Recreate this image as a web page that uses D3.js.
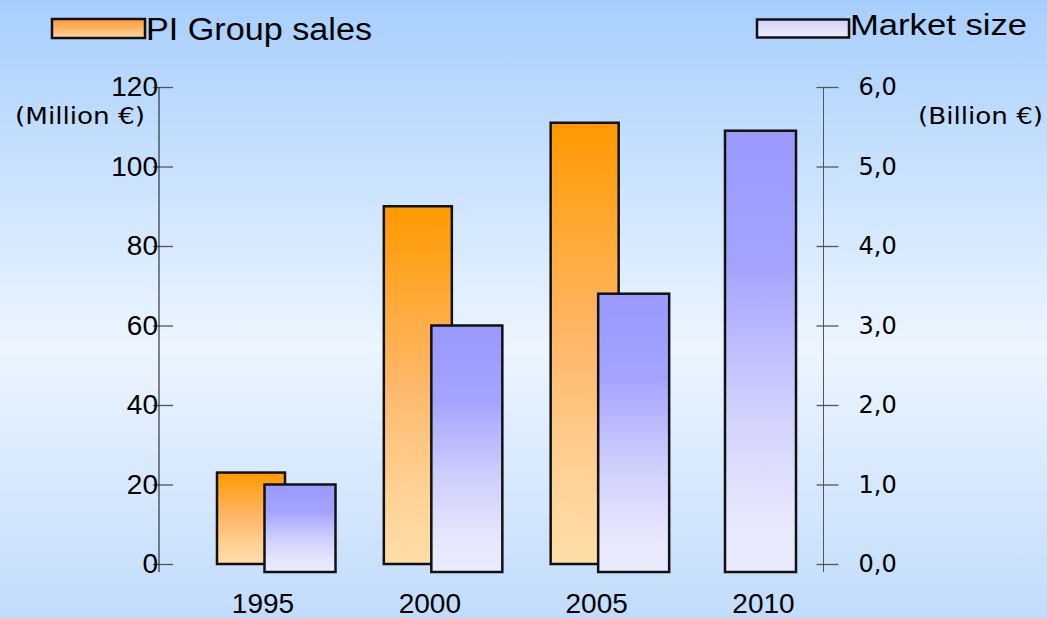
<!DOCTYPE html>
<html>
    <head>
        <title>PI Group sales vs market size</title>
        <meta charset="UTF-8">
        <script src="https://cdnjs.cloudflare.com/ajax/libs/d3/7.9.0/d3.min.js"></script>
        <style>
            html, body {
                margin: 0;
                padding: 0;
                overflow: hidden;
            }
            .chart text {
                fill: #000;
            }
        </style>
    </head>
    <body>
        <div class="chart"></div>
        <script>
            // data
            var years = ['1995', '2000', '2005', '2010'];
            var groupSales = [23, 90, 111, null];     // million EUR, left axis
            var marketSize = [1.0, 3.0, 3.4, 5.45];   // billion EUR, right axis
            var leftTicks = [0, 20, 40, 60, 80, 100, 120];
            var rightTicks = [0, 1, 2, 3, 4, 5, 6];

            var w = 1047;
            var h = 618;
            var depth = 8; // market bars drop below the base line

            var svg = d3.select('.chart').append('svg')
                    .attr('width', w)
                    .attr('height', h);

            var defs = svg.append('defs');
            function addGradient(id, stops){
                let g = defs.append('linearGradient')
                        .attr('id', id)
                        .attr('x1', 0).attr('y1', 0)
                        .attr('x2', 0).attr('y2', 1);
                stops.forEach(function(s){
                    g.append('stop')
                        .attr('offset', s[0])
                        .style('stop-color', s[1]);
                });
            }
            addGradient('bg', [[0, '#a7cffd'], [0.56, '#ecf5ff'], [1, '#c1dcfb']]);
            addGradient('orange', [[0, '#ff9900'], [0.5, '#ffb86a'], [0.8, '#ffd296'], [1, '#ffdda8']]);
            addGradient('purple', [[0, '#9999ff'], [0.3, '#a3a3ff'], [0.6, '#cdcdfd'], [0.85, '#e5e5fd'], [1, '#ebebfe']]);
            addGradient('orangeKey', [[0, '#ff9a2e'], [1, '#ffd3a4']]);
            addGradient('purpleKey', [[0, '#cfcffd'], [1, '#efeffe']]);

            svg.append('rect')
                .attr('width', w)
                .attr('height', h)
                .attr('fill', 'url(#bg)');

            // scales
            var x = d3.scalePoint()
                    .domain(years)
                    .range([263, 763.5]);
            var yL = d3.scaleLinear()
                    .domain([0, 120])
                    .range([564, 87]);
            var yR = d3.scaleLinear()
                    .domain([0, 6])
                    .range([564, 87]);

            var axisLeftX = 159;
            var axisRightX = 823.5;
            var orangeW = 68;
            var purpleW = 71;

            // left axis
            var gl = svg.append('g')
                    .attr('transform', 'translate(' + axisLeftX + ',0)')
                    .call(d3.axisLeft(yL).tickValues(leftTicks).tickSizeOuter(0));
            gl.select('.domain').remove();
            gl.selectAll('.tick line')
                .attr('x1', -6).attr('x2', 14)
                .attr('stroke', '#555').attr('stroke-width', 1.3);
            gl.selectAll('.tick text')
                .attr('x', -1)
                .style('font-family', '"Liberation Sans", Arial, sans-serif')
                .style('font-size', '28px');
            gl.append('line')
                .attr('y1', yL(120)).attr('y2', yL(0) + depth)
                .attr('stroke', '#111');

            // right axis
            var gr = svg.append('g')
                    .attr('transform', 'translate(' + axisRightX + ',0)')
                    .call(d3.axisRight(yR).tickValues(rightTicks).tickSizeOuter(0)
                        .tickFormat(d => d3.format('.1f')(d).replace('.', ',')));
            gr.select('.domain').remove();
            gr.selectAll('.tick line')
                .attr('x1', -7).attr('x2', 15)
                .attr('stroke', '#555').attr('stroke-width', 1.3);
            gr.selectAll('.tick text')
                .attr('x', 35)
                .style('font-family', '"DejaVu Sans", Verdana, sans-serif')
                .style('font-size', '24px');
            gr.append('line')
                .attr('y1', yR(6)).attr('y2', yR(0) + depth)
                .attr('stroke', '#555');

            // unit labels
            svg.append('text')
                .attr('x', 15).attr('y', 124)
                .attr('textLength', 130).attr('lengthAdjust', 'spacingAndGlyphs')
                .style('font-family', '"DejaVu Sans", Verdana, sans-serif')
                .style('font-size', '23px')
                .text('(Million €)');
            svg.append('text')
                .attr('x', 918).attr('y', 124)
                .attr('textLength', 125).attr('lengthAdjust', 'spacingAndGlyphs')
                .style('font-family', '"DejaVu Sans", Verdana, sans-serif')
                .style('font-size', '23px')
                .text('(Billion €)');

            // bars
            var rows = years.map((y, i) => ({year: y, sales: groupSales[i], market: marketSize[i]}));

            function orangeCenter(d){ return x(d.year) - 12; }
            function purpleCenter(d){ return d.sales === null ? x(d.year) - 3 : orangeCenter(d) + 49; }

            svg.append('g').selectAll('rect')
                .data(rows.filter(d => d.sales !== null))
                .enter().append('rect')
                .attr('x', d => orangeCenter(d) - orangeW / 2)
                .attr('y', d => yL(d.sales))
                .attr('width', orangeW)
                .attr('height', d => yL(0) - yL(d.sales))
                .attr('fill', 'url(#orange)')
                .attr('stroke', '#111')
                .attr('stroke-width', 2.5);

            svg.append('g').selectAll('rect')
                .data(rows)
                .enter().append('rect')
                .attr('x', d => purpleCenter(d) - purpleW / 2)
                .attr('y', d => yR(d.market))
                .attr('width', purpleW)
                .attr('height', d => yR(0) + depth - yR(d.market))
                .attr('fill', 'url(#purple)')
                .attr('stroke', '#111')
                .attr('stroke-width', 2.5);

            // category labels
            svg.append('g').selectAll('text')
                .data(years)
                .enter().append('text')
                .attr('x', d => x(d))
                .attr('y', 613)
                .attr('text-anchor', 'middle')
                .style('font-family', '"Liberation Sans", Arial, sans-serif')
                .style('font-size', '28px')
                .text(d => d);

            // legend
            svg.append('rect')
                .attr('x', 52).attr('y', 19).attr('width', 93).attr('height', 19)
                .attr('fill', 'url(#orangeKey)')
                .attr('stroke', '#111').attr('stroke-width', 2.5);
            svg.append('text')
                .attr('x', 146).attr('y', 40)
                .attr('textLength', 226).attr('lengthAdjust', 'spacingAndGlyphs')
                .style('font-family', '"Liberation Sans", Arial, sans-serif')
                .style('font-size', '31px')
                .text('PI Group sales');
            svg.append('rect')
                .attr('x', 757).attr('y', 19.5).attr('width', 92).attr('height', 18)
                .attr('fill', 'url(#purpleKey)')
                .attr('stroke', '#111').attr('stroke-width', 2.5);
            svg.append('text')
                .attr('x', 850).attr('y', 34.5)
                .attr('textLength', 177).attr('lengthAdjust', 'spacingAndGlyphs')
                .style('font-family', '"Liberation Sans", Arial, sans-serif')
                .style('font-size', '30px')
                .text('Market size');
        </script>
    </body>
</html>
